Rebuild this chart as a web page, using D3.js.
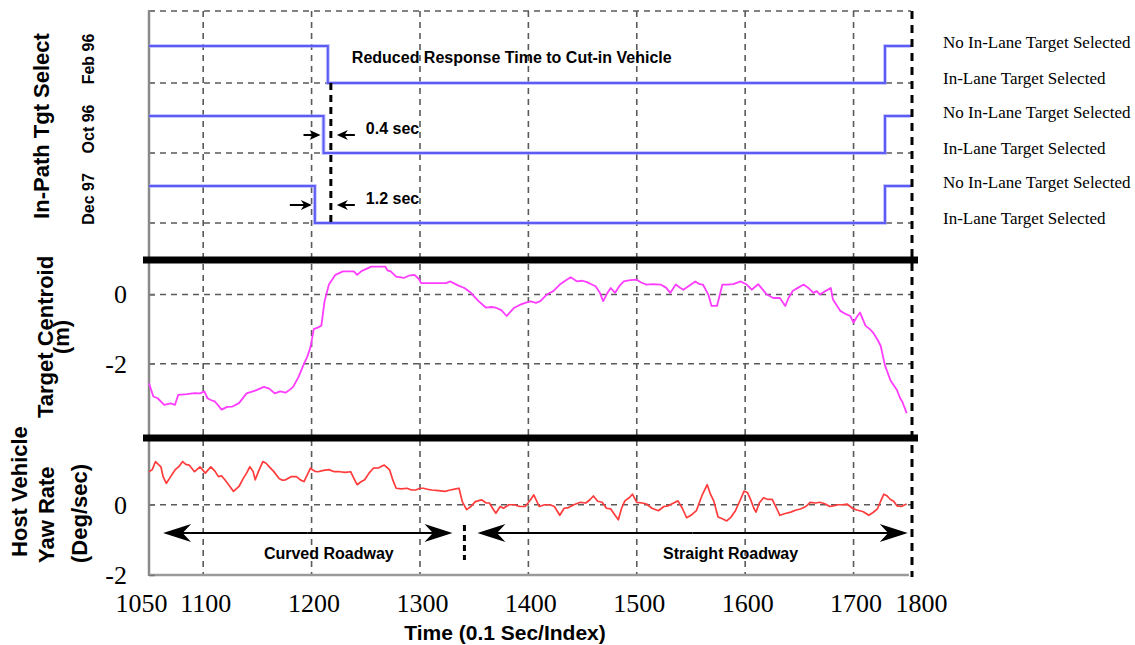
<!DOCTYPE html>
<html>
<head>
<meta charset="utf-8">
<script src="https://cdn.jsdelivr.net/npm/d3@7"></script>
<style>
  html, body { margin: 0; padding: 0; background: #fff; }
  svg { display: block; }
  .sans { font-family: "Liberation Sans", Arial, sans-serif; font-weight: bold; }
  .serif { font-family: "Liberation Serif", "Times New Roman", serif; }
</style>
</head>
<body>
<svg id="chart" width="1135" height="645"></svg>
<script>
// ---- time axis (index, 0.1 s per step) ----
const gridTimes = [1100, 1200, 1300, 1400, 1500, 1600, 1700];
const xTickValues = [1050, 1100, 1200, 1300, 1400, 1500, 1600, 1700, 1800];

// ---- in-path target selection, one step signal per software release ----
const lanes = ["Feb 96", "Oct 96", "Dec 97"];
const selectDrop = [1215, 1211, 1203];   // target becomes selected
const selectRise = [1729, 1729, 1729];   // target dropped again
const leadSec = [0, 0.4, 1.2];           // earlier selection vs. Feb 96
const stateLabels = ["In-Lane Target Selected", "No In-Lane Target Selected"];

// ---- target centroid lateral offset (m) ----
const tgtTime = [1050,1054,1058,1064,1070,1074,1077,1085,1092,1097,1101,1104,1107,1111,1117,1122,1127,1133,1140,1148,
  1156,1161,1166,1171,1176,1180,1183,1188,1193,1196,1199,1202,1206,1209,1212,1216,1222,1229,1235,1239,
  1242,1246,1249,1255,1262,1268,1270,1273,1278,1285,1290,1295,1299,1301,1310,1324,1328,1331,1336,1341,
  1347,1354,1361,1366,1370,1375,1380,1384,1387,1392,1397,1402,1407,1411,1417,1423,1429,1434,1439,1445,
  1450,1454,1458,1462,1466,1469,1473,1476,1480,1484,1488,1494,1500,1504,1509,1515,1522,1527,1531,1536,
  1540,1543,1548,1554,1558,1561,1566,1569,1574,1579,1584,1589,1596,1601,1606,1612,1616,1620,1626,1632,
  1637,1640,1644,1649,1654,1658,1663,1666,1669,1674,1679,1681,1688,1692,1697,1700,1703,1706,1711,1715,
  1718,1722,1725,1729,1734,1740,1743,1745,1749];
const tgtValue = [-2.57,-2.95,-3.0,-3.19,-3.15,-3.19,-2.9,-2.88,-2.85,-2.86,-2.8,-3.0,-3.05,-3.1,-3.33,-3.25,-3.24,-3.14,-2.86,-2.78,
  -2.67,-2.72,-2.86,-2.8,-2.84,-2.75,-2.67,-2.38,-2.0,-1.8,-1.52,-1.0,-0.95,-0.9,-0.19,0.29,0.57,0.67,0.67,0.67,
  0.57,0.68,0.72,0.81,0.81,0.81,0.7,0.67,0.52,0.48,0.55,0.57,0.45,0.33,0.33,0.33,0.38,0.33,0.25,0.19,
  0.05,-0.19,-0.38,-0.36,-0.38,-0.45,-0.62,-0.48,-0.38,-0.3,-0.24,-0.2,-0.24,-0.19,0.0,0.1,0.29,0.4,0.5,0.38,
  0.4,0.36,0.3,0.24,0.05,-0.19,0.05,0.19,0.05,0.25,0.38,0.42,0.43,0.35,0.29,0.3,0.29,0.2,0.05,0.29,
  0.2,0.14,0.25,0.38,0.3,0.29,0.0,-0.33,-0.33,0.29,0.29,0.3,0.38,0.3,0.14,0.3,0.15,0.0,-0.1,-0.1,
  -0.33,-0.1,0.11,0.2,0.29,0.2,0.05,0.1,0.0,0.1,0.19,-0.14,-0.48,-0.55,-0.62,-0.81,-0.65,-0.52,-0.9,-1.0,
  -1.1,-1.3,-1.48,-2.05,-2.48,-2.76,-3.0,-3.1,-3.43];
const tgtTicks = [0, -2];

// ---- host vehicle yaw rate (deg/s) ----
const yawTime = [1050,1053,1056,1061,1063,1066,1070,1074,1078,1081,1084,1087,1092,1097,1102,1107,1111,1114,1117,1120,
  1124,1128,1133,1137,1140,1143,1146,1148,1151,1155,1158,1161,1165,1170,1173,1176,1181,1186,1190,1193,
  1196,1199,1203,1206,1211,1216,1221,1226,1231,1236,1239,1242,1246,1249,1253,1257,1262,1267,1270,1272,
  1275,1278,1283,1288,1292,1296,1300,1303,1307,1311,1317,1323,1328,1333,1336,1339,1343,1347,1351,1357,
  1361,1364,1367,1370,1374,1377,1382,1387,1392,1397,1401,1405,1410,1415,1420,1424,1429,1433,1437,1442,
  1448,1453,1457,1460,1464,1468,1472,1476,1480,1483,1486,1489,1493,1496,1500,1505,1509,1514,1520,1525,
  1529,1534,1538,1542,1546,1550,1555,1560,1565,1568,1571,1575,1579,1583,1587,1591,1595,1599,1602,1605,
  1608,1610,1613,1617,1621,1625,1629,1632,1637,1642,1647,1651,1656,1660,1665,1669,1674,1678,1681,1686,
  1690,1694,1699,1703,1709,1714,1718,1722,1725,1728,1731,1734,1737,1740,1744,1749];
const yawValue = [0.94,1.0,1.23,1.08,0.8,0.61,0.8,0.99,1.1,1.23,1.15,1.13,0.94,1.08,0.9,1.08,0.95,0.8,0.82,0.71,
  0.55,0.38,0.52,0.75,0.9,1.08,0.95,0.71,0.95,1.23,1.18,1.08,0.95,0.75,0.7,0.71,0.8,0.8,0.7,0.66,
  0.85,1.04,0.95,0.94,0.98,1.0,0.94,0.94,0.92,0.94,0.75,0.57,0.66,0.71,0.9,1.04,1.05,1.13,1.05,0.99,
  0.7,0.47,0.45,0.47,0.42,0.42,0.47,0.47,0.44,0.42,0.4,0.38,0.42,0.45,0.47,0.09,-0.14,-0.05,0.09,0.14,
  0.05,0.05,-0.1,-0.24,-0.05,-0.1,0.0,0.0,-0.05,-0.05,0.1,0.28,-0.05,0.0,0.0,-0.05,-0.3,-0.1,-0.08,0.0,
  0.07,0.05,0.15,0.25,0.1,0.07,-0.1,-0.12,-0.3,-0.43,-0.1,0.11,0.2,0.3,0.07,0.05,0.02,-0.1,-0.17,-0.05,
  -0.03,0.05,0.11,-0.1,-0.37,-0.3,-0.17,0.25,0.57,0.3,0.11,-0.35,-0.4,-0.46,-0.35,-0.17,0.1,0.39,0.35,0.15,
  -0.1,-0.21,0.05,0.2,0.15,0.15,-0.1,-0.3,-0.25,-0.21,-0.15,-0.12,-0.05,0.07,0.05,0.07,0.02,-0.05,-0.03,0.0,
  0.0,0.02,-0.1,-0.15,-0.2,-0.3,-0.22,-0.12,0.1,0.3,0.25,0.15,0.1,-0.03,-0.05,0.02];
const yawTicks = [0, -2];

// ---- roadway segments ----
const roadLabels = ["Curved Roadway", "Straight Roadway"];
const roadStart = [1063, 1353];
const roadEnd = [1330, 1750];
const roadChange = 1341;

// ================= layout =================
const svg = d3.select("#chart");
const pLeft = 149, pRight = 911, pTop = 11, sep1 = 260, sep2 = 438, pBottom = 575;

const x = d3.scaleLinear().domain([1050, 1753]).range([pLeft, pRight]);
const xAxisScale = x.copy().clamp(true);

const laneY = d3.scalePoint().domain(lanes).range([83, 223]);
const stateY = d3.scaleLinear().domain([0, 1]).range([0, -37]);
const selY = (lane, s) => laneY(lane) + stateY(s);

const yTgt = d3.scaleLinear().domain([-4.15, 1.0]).range([sep2, sep1]);
const yYaw = d3.scaleLinear().domain([-2, 1.9]).range([pBottom, sep2]);

const defs = svg.append("defs");
defs.append("filter").attr("id", "soft").attr("x", "-5%").attr("y", "-20%").attr("width", "110%").attr("height", "140%")
  .append("feGaussianBlur").attr("stdDeviation", 0.55);

const gridColor = "#5a5a5a";

// vertical grid lines through all three panels
svg.append("g").selectAll("line").data(gridTimes).join("line")
  .attr("x1", d => x(d)).attr("x2", d => x(d))
  .attr("y1", pTop).attr("y2", pBottom)
  .attr("stroke", gridColor).attr("stroke-width", 1.6).attr("stroke-dasharray", "6,5");

// top border of the selection panel
svg.append("line").attr("x1", pLeft).attr("x2", pRight).attr("y1", pTop).attr("y2", pTop)
  .attr("stroke", gridColor).attr("stroke-width", 1.6).attr("stroke-dasharray", "6,5");

// horizontal grid lines
const hGrid = [...lanes.map(l => selY(l, 0)), ...tgtTicks.map(v => yTgt(v)), yYaw(0)];
svg.append("g").selectAll("line").data(hGrid).join("line")
  .attr("x1", pLeft).attr("x2", pRight).attr("y1", d => d).attr("y2", d => d)
  .attr("stroke", gridColor).attr("stroke-width", 1.6).attr("stroke-dasharray", "6,5");

// small ticks on the selection panel axis
svg.append("g").selectAll("line").data([pTop, ...lanes.map(l => selY(l, 0))]).join("line")
  .attr("x1", pLeft).attr("x2", pLeft + 5).attr("y1", d => d).attr("y2", d => d)
  .attr("stroke", "#777").attr("stroke-width", 1.5);

// left and bottom axis frame
svg.append("line").attr("x1", pLeft).attr("x2", pLeft).attr("y1", pTop - 1).attr("y2", pBottom + 1)
  .attr("stroke", "#8a8a8a").attr("stroke-width", 2.5);
svg.append("line").attr("x1", pLeft).attr("x2", pRight - 2).attr("y1", pBottom).attr("y2", pBottom)
  .attr("stroke", "#9a9a9a").attr("stroke-width", 2.5);

// y axes for the two numeric panels (plain hyphen for negatives)
function yAxis(scale, ticks) {
  const g = svg.append("g").attr("transform", `translate(${pLeft},0)`)
    .call(d3.axisLeft(scale).tickValues(ticks).tickSize(-6).tickPadding(22).tickFormat(d => String(d)));
  g.select(".domain").remove();
  g.selectAll(".tick line").attr("stroke", "#777").attr("stroke-width", 1.5);
  g.selectAll(".tick text").attr("class", "serif").attr("font-size", 26).attr("fill", "#000");
  return g;
}
yAxis(yTgt, tgtTicks);
yAxis(yYaw, yawTicks);

// ---- selection step traces ----
const stepLine = d3.line().x(d => x(d[0])).y(d => d[1]).curve(d3.curveStepAfter);
lanes.forEach((lane, i) => {
  const pts = [[1050, 1], [selectDrop[i], 0], [selectRise[i], 1], [x.domain()[1], 1]]
    .map(p => [p[0], selY(lane, p[1])]);
  svg.append("path").attr("d", stepLine(pts))
    .attr("fill", "none").attr("stroke", "#a4a4ff").attr("stroke-width", 4).attr("opacity", 0.6)
    .attr("filter", "url(#soft)");
  svg.append("path").attr("d", stepLine(pts))
    .attr("fill", "none").attr("stroke", "#5c5cf4").attr("stroke-width", 2)
    .attr("filter", "url(#soft)");
});

// ---- target centroid trace ----
const tgtLine = d3.line().x(d => x(d[0])).y(d => yTgt(d[1]));
svg.append("path").attr("d", tgtLine(tgtTime.map((t, i) => [t, tgtValue[i]])))
  .attr("fill", "none").attr("stroke", "#ff3cff").attr("stroke-width", 1.8)
  .attr("stroke-linejoin", "round").attr("filter", "url(#soft)");

// ---- yaw rate trace ----
const yawLine = d3.line().x(d => x(d[0])).y(d => yYaw(d[1]));
svg.append("path").attr("d", yawLine(yawTime.map((t, i) => [t, yawValue[i]])))
  .attr("fill", "none").attr("stroke", "#ff3b3b").attr("stroke-width", 1.7)
  .attr("stroke-linejoin", "round").attr("filter", "url(#soft)");

// ---- panel separators and right boundary ----
svg.append("g").selectAll("line").data([sep1, sep2]).join("line")
  .attr("x1", pLeft - 6).attr("x2", pRight + 7).attr("y1", d => d).attr("y2", d => d)
  .attr("stroke", "#000").attr("stroke-width", 7);
svg.append("line").attr("x1", pRight + 1).attr("x2", pRight + 1).attr("y1", pTop).attr("y2", pBottom + 2)
  .attr("stroke", "#000").attr("stroke-width", 3).attr("stroke-dasharray", "8,6");

// ---- arrows ----
function arrow(x1, x2, y, headLen, headHalf, width) {
  const dir = Math.sign(x2 - x1);
  const g = svg.append("g");
  g.append("line").attr("x1", x1).attr("x2", x2 - dir * headLen * 0.6).attr("y1", y).attr("y2", y)
    .attr("stroke", "#000").attr("stroke-width", width);
  g.append("path")
    .attr("d", `M${x2},${y} L${x2 - dir * headLen},${y - headHalf} L${x2 - dir * headLen * 0.7},${y} L${x2 - dir * headLen},${y + headHalf} Z`)
    .attr("fill", "#000");
}

// response-time annotations in the selection panel
const markX = x(selectDrop[0]) + 3;
svg.append("line").attr("x1", markX).attr("x2", markX)
  .attr("y1", selY(lanes[0], 0)).attr("y2", selY(lanes[2], 0))
  .attr("stroke", "#000").attr("stroke-width", 3).attr("stroke-dasharray", "7,5");

svg.append("text").attr("class", "sans").attr("font-size", 16)
  .attr("x", markX + 21).attr("y", selY(lanes[0], 1) + 17)
  .text("Reduced Response Time to Cut-in Vehicle");

[1, 2].forEach(i => {
  const yMid = selY(lanes[i], 0) - 18;
  const tip = x(selectDrop[i]) - 3;
  arrow(tip - (i === 1 ? 17 : 22), tip, yMid, 11, 5, 2);
  arrow(markX + 24, markX + 6, yMid, 11, 5, 2);
  svg.append("text").attr("class", "sans").attr("font-size", 16)
    .attr("x", markX + 35).attr("y", yMid - 1)
    .text(`${leadSec[i]} sec`);
});

// roadway annotations in the yaw panel
const roadY = 533;
roadLabels.forEach((name, i) => {
  const a = x(roadStart[i]), b = x(roadEnd[i]);
  arrow((a + b) / 2, a, roadY, 28, 9, 2);
  arrow((a + b) / 2, b, roadY, 28, 9, 2);
  svg.append("text").attr("class", "sans").attr("font-size", 16).attr("text-anchor", "middle")
    .attr("x", (a + b) / 2 + (i === 0 ? 21 : 38)).attr("y", roadY + 26)
    .text(name);
});
svg.append("line").attr("x1", x(roadChange)).attr("x2", x(roadChange))
  .attr("y1", roadY - 8).attr("y2", roadY + 27)
  .attr("stroke", "#000").attr("stroke-width", 3).attr("stroke-dasharray", "6,4");

// ---- right-hand state labels ----
lanes.forEach(lane => {
  [1, 0].forEach(s => {
    svg.append("text").attr("class", "serif").attr("font-size", 17)
      .attr("x", 943).attr("y", selY(lane, s) + (s ? -3 : -4))
      .attr("dy", "0.32em")
      .text(stateLabels[s]);
  });
});

// ---- y titles ----
function vText(txt, tx, ty, size, anchor) {
  svg.append("text").attr("class", "sans").attr("font-size", size)
    .attr("text-anchor", anchor)
    .attr("transform", `translate(${tx},${ty}) rotate(-90)`)
    .attr("dy", "0.35em")
    .text(txt);
}
vText("In-Path Tgt Select", 41, 126, 22, "middle");
lanes.forEach(lane => vText(lane, 88, laneY(lane) - 24, 16, "middle"));
vText("Target Centroid", 45, 418, 22, "start");
vText("(m)", 61, 337, 22, "middle");
vText("Host Vehicle", 19, 557, 22, "start");
vText("Yaw Rate", 46, 563, 22, "start");
vText("(Deg/sec)", 79, 563, 22, "start");

// ---- x axis ----
const xg = svg.append("g").attr("transform", `translate(0,${pBottom})`)
  .call(d3.axisBottom(xAxisScale).tickValues(xTickValues).tickSize(0).tickPadding(19).tickFormat(d => String(d)));
xg.select(".domain").remove();
xg.selectAll(".tick text").attr("class", "serif").attr("font-size", 26).attr("fill", "#000")
  .attr("dx", (d, i, n) => i === 0 ? -8 : (i === n.length - 1 ? 10 : 2));

svg.append("text").attr("class", "sans").attr("font-size", 21).attr("text-anchor", "middle")
  .attr("x", 505).attr("y", 640)
  .text("Time (0.1 Sec/Index)");
</script>
</body>
</html>
